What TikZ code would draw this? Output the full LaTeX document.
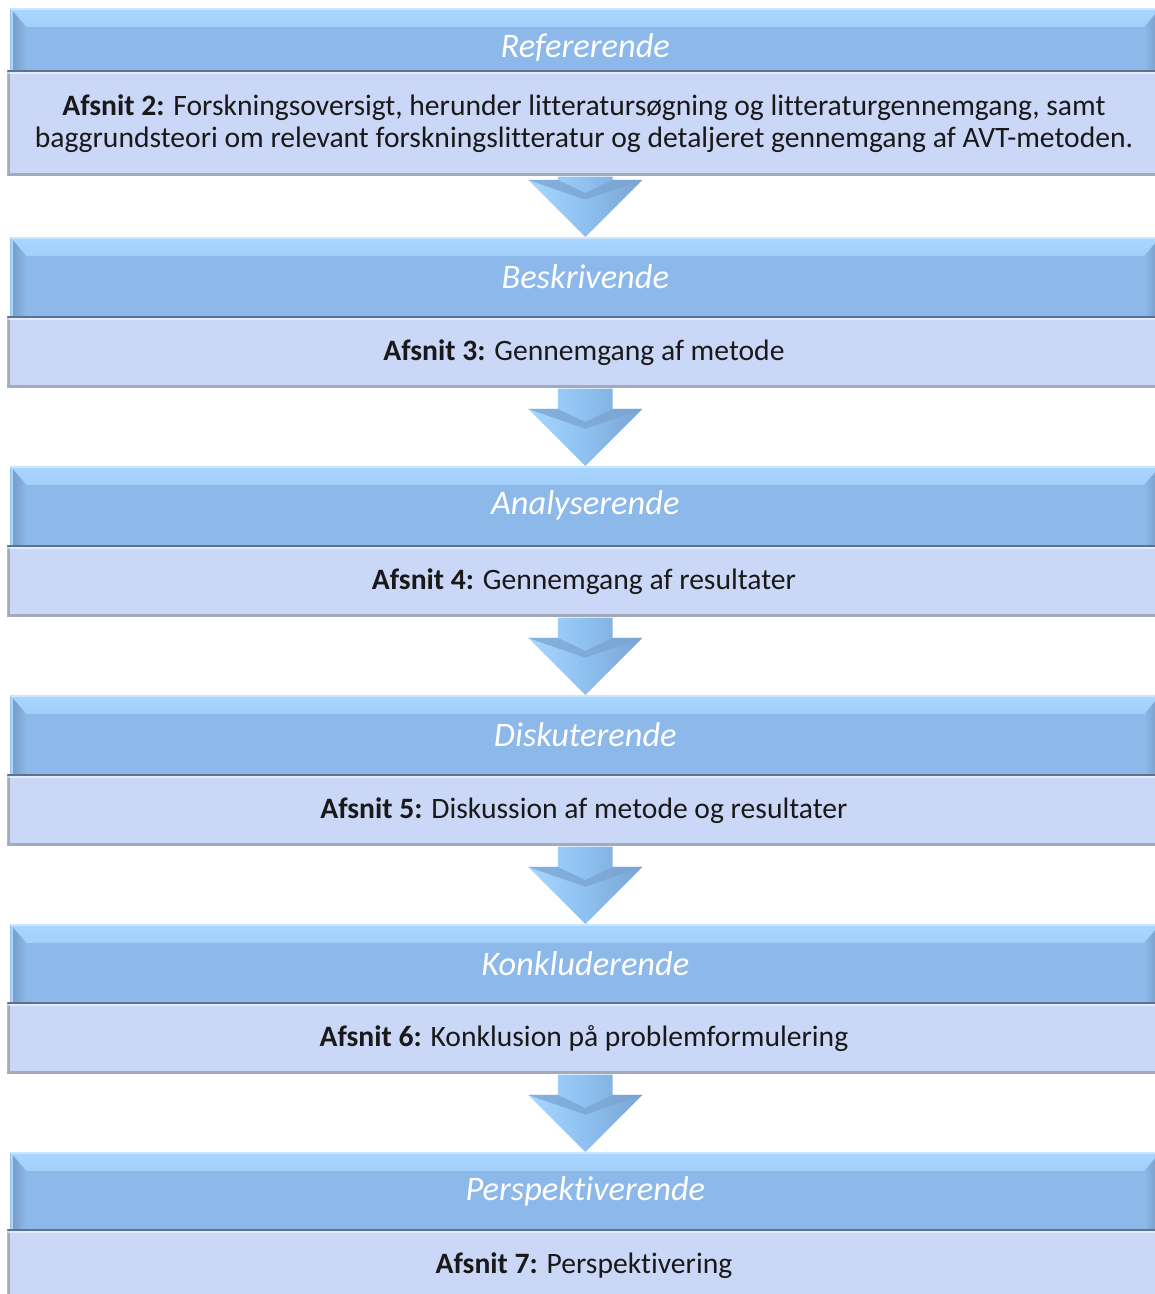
\documentclass[tikz,border=0pt]{standalone}
\usepackage{fontspec}
\setmainfont[Ligatures=NoCommon]{Carlito}
\usepackage{tikz}
\usetikzlibrary{calc}

\definecolor{HeadBlue}{HTML}{8CB9EA}
\definecolor{HeadLight}{HTML}{A8D6FF}
\definecolor{HeadDark}{HTML}{7598C2}
\definecolor{BodyBlue}{HTML}{CAD7F6}
\definecolor{BodyLine}{HTML}{5E7290}
\definecolor{BodyGray}{HTML}{A3ABBB}
\definecolor{ArrowBlue}{HTML}{8EC0F0}
\definecolor{ArrowLight}{HTML}{A9D7FF}
\definecolor{ArrowDark}{HTML}{7AA4D1}

% block arrow from the bottom of one box to the top of the next
\newcommand{\flowarrow}[2]{%
  \shade[left color=ArrowLight, right color=ArrowDark, middle color=ArrowBlue]
    let \p1=(#1.south), \p2=(#2.north) in
    (\x2-20.6pt,\y1) -- (\x2+20.6pt,\y1) -- (\x2+20.6pt,\y2+42.8pt)
    -- (\x2+42.8pt,\y2+42.8pt) -- (\x2,\y2) -- (\x2-42.8pt,\y2+42.8pt)
    -- (\x2-20.6pt,\y2+42.8pt) -- cycle;
  \fill[ArrowDark, opacity=.75] let \p2=(#2.north) in
    (\x2-42.8pt,\y2+42.8pt) -- (\x2-20.6pt,\y2+42.8pt) -- (\x2,\y2+33pt)
    -- (\x2,\y2+28pt) -- cycle
    (\x2+42.8pt,\y2+42.8pt) -- (\x2+20.6pt,\y2+42.8pt) -- (\x2,\y2+33pt)
    -- (\x2,\y2+28pt) -- cycle;
}

\begin{document}
\begin{tikzpicture}[x=0.75pt, y=-0.75pt,
    head/.style={rectangle, anchor=north west, inner sep=0pt, fill=HeadBlue,
      minimum width=862.5pt, minimum height=59.25pt, text=white,
      font=\fontsize{25.8}{28}\selectfont\itshape,
      path picture={
        \shade[top color=HeadLight, bottom color=HeadBlue]
          (path picture bounding box.north west) -- (path picture bounding box.north east)
          -- ([shift={(-12pt,-14pt)}]path picture bounding box.north east)
          -- ([shift={(12pt,-14pt)}]path picture bounding box.north west) -- cycle;
        \shade[left color=HeadDark, right color=HeadBlue]
          (path picture bounding box.north west)
          -- ([shift={(12pt,-14pt)}]path picture bounding box.north west)
          -- ([xshift=12pt]path picture bounding box.south west)
          -- (path picture bounding box.south west) -- cycle;
        \shade[left color=HeadBlue, right color=HeadDark]
          (path picture bounding box.north east)
          -- ([shift={(-12pt,-14pt)}]path picture bounding box.north east)
          -- ([xshift=-12pt]path picture bounding box.south east)
          -- (path picture bounding box.south east) -- cycle;
        \fill[HeadLight] (path picture bounding box.north west)
          rectangle ([xshift=2pt]path picture bounding box.south west);
        \fill[HeadLight!60!white] (path picture bounding box.north west)
          rectangle ([yshift=-1.5pt]path picture bounding box.north east);
      }},
    body/.style={rectangle, anchor=north west, inner sep=0pt, fill=BodyBlue,
      minimum width=865pt, minimum height=54pt, text=black!90,
      font=\fontsize{22.2}{24}\selectfont, align=center,
      path picture={
        \fill[BodyGray] (path picture bounding box.south west)
          rectangle ([yshift=2.5pt]path picture bounding box.south east);
        \fill[BodyGray] (path picture bounding box.south west)
          rectangle ([xshift=2pt]path picture bounding box.north west);
        \fill[BodyLine] (path picture bounding box.north west)
          rectangle ([yshift=-1pt]path picture bounding box.north east);
        \fill[white, opacity=.5] ([yshift=-1pt]path picture bounding box.north west)
          rectangle ([yshift=-3pt]path picture bounding box.north east);
      }}]
  \useasboundingbox (0,0) rectangle (1154,1294);

  \node (H1) [head] at (10,8) {Refererende};
  \node (B1) [body, minimum height=79.5pt] at (7,70)
    {\textbf{Afsnit 2:} Forskningsoversigt, herunder litteratursøgning og litteraturgennemgang, samt\\
     baggrundsteori om relevant forskningslitteratur og detaljeret gennemgang af AVT-metoden.};
  \node (H2) [head] at (10,237) {Beskrivende};
  \node (B2) [body] at (7,316) {\textbf{Afsnit 3:} Gennemgang af metode};
  \node (H3) [head] at (10,466) {Analyserende};
  \node (B3) [body] at (7,545) {\textbf{Afsnit 4:} Gennemgang af resultater};
  \node (H4) [head] at (10,695) {Diskuterende};
  \node (B4) [body] at (7,774) {\textbf{Afsnit 5:} Diskussion af metode og resultater};
  \node (H5) [head] at (10,924) {Konkluderende};
  \node (B5) [body] at (7,1002) {\textbf{Afsnit 6:} Konklusion på problemformulering};
  \node (H6) [head] at (10,1152) {Perspektiverende};
  \node (B6) [body] at (7,1229) {\textbf{Afsnit 7:} Perspektivering};

  \foreach \a/\b in {B1/H2, B2/H3, B3/H4, B4/H5, B5/H6}
    \flowarrow{\a}{\b};
\end{tikzpicture}
\end{document}
